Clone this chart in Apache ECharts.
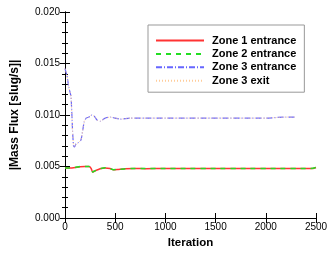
<!DOCTYPE html>
<html>
<head>
<meta charset="utf-8">
<script src="https://cdn.jsdelivr.net/npm/echarts@6/dist/echarts.min.js"></script>
<style>
html,body{margin:0;padding:0;background:#fff;}
#charts{width:332px;height:254px;}
</style>
</head>
<body>
<div id="charts"></div>
<script>
//mass flux convergence history
var fontName = "Liberation Sans";
var xTicks = [0, 500, 1000, 1500, 2000, 2500];
var yTicks = [0.000, 0.005, 0.010, 0.015, 0.020];

// zone 1 / zone 2 entrance (almost identical)
var iterZone12 = [0, 50, 100, 150, 200, 240, 260, 275, 300, 350, 400, 450, 480, 520, 600, 700, 800, 1000, 1200, 1500, 1800, 2100, 2400, 2470, 2500];
var zone1In = [0.00485, 0.00485, 0.00490, 0.00498, 0.00500, 0.00500, 0.00482, 0.00446, 0.00458, 0.00478, 0.00486, 0.00480, 0.00468, 0.00470, 0.00478, 0.00480, 0.00479, 0.00480, 0.00480, 0.00480, 0.00480, 0.00480, 0.00480, 0.00481, 0.00490];
var zone2In = [0.00486, 0.00486, 0.00491, 0.00499, 0.00501, 0.00501, 0.00483, 0.00447, 0.00459, 0.00479, 0.00487, 0.00481, 0.00469, 0.00471, 0.00479, 0.00481, 0.00480, 0.00481, 0.00481, 0.00481, 0.00481, 0.00481, 0.00481, 0.00482, 0.00491];

// zone 3 entrance / exit
var iterZone3 = [0, 20, 40, 60, 75, 85, 95, 110, 130, 160, 190, 210, 240, 260, 290, 320, 350, 400, 450, 500, 550, 650, 800, 1000, 1200, 1400, 1600, 1800, 2000, 2200, 2300];
var zone3In = [0.0145, 0.0138, 0.0126, 0.0118, 0.0085, 0.0070, 0.0069, 0.0072, 0.0073, 0.0076, 0.0093, 0.0097, 0.0098, 0.0100, 0.0099, 0.0095, 0.0094, 0.0097, 0.0098, 0.0097, 0.0096, 0.0097, 0.0097, 0.0097, 0.0097, 0.0097, 0.0097, 0.0097, 0.0097, 0.0098, 0.0098];
var zone3Out = [0.0145, 0.0138, 0.0126, 0.0118, 0.0085, 0.0070, 0.0069, 0.0072, 0.0073, 0.0076, 0.0093, 0.0097, 0.0098, 0.0100, 0.0099, 0.0095, 0.0094, 0.0097, 0.0098, 0.0097, 0.0096, 0.0097, 0.0097, 0.0097, 0.0097, 0.0097, 0.0097, 0.0097, 0.0097, 0.0098, 0.0098];

function pairs(xs, ys){
	var out = [];
	for(var i=0;i<xs.length;i++){
		out.push([xs[i], ys[i]]);
	}
	return out;
}

function lineSeries(name, xs, ys, color, type, width){
	return {
		name: name,
		type: 'line',
		symbol: 'none',
		smooth: 0.15,
		data: pairs(xs, ys),
		lineStyle: {color: color, width: width, type: type},
		itemStyle: {color: color}
	};
}

var tickStyle = {show: true, inside: true, length: 5, lineStyle: {color: '#000', width: 1}};
var minorStyle = {show: true, splitNumber: 5, length: 3, lineStyle: {color: '#000', width: 1}};

var options = {
	animation: false,
	textStyle: {fontFamily: fontName},
	grid: {left: 65, right: 16, top: 12, bottom: 29},
	legend: {
		orient: 'vertical',
		left: 148,
		top: 25,
		width: 151,
		padding: [10, 8, 6, 7],
		itemWidth: 48,
		itemHeight: 10,
		itemGap: 2.4,
		borderColor: '#999',
		borderWidth: 1,
		backgroundColor: '#fff',
		itemStyle: {opacity: 0},
		textStyle: {fontFamily: fontName, fontSize: 11, fontWeight: 'bold', color: '#000', padding: [0, 0, 0, 3]},
		data: ['Zone 1 entrance', 'Zone 2 entrance', 'Zone 3 entrance', 'Zone 3 exit']
	},
	xAxis: [{
		type: 'value',
		min: 0, max: 2500, interval: 500,
		name: 'Iteration',
		nameLocation: 'middle',
		nameGap: 19,
		nameTextStyle: {fontFamily: fontName, fontSize: 11.5, fontWeight: 'bold', color: '#000'},
		axisLine: {show: true, lineStyle: {color: '#000', width: 1}},
		axisTick: tickStyle,
		axisLabel: {fontFamily: fontName, fontSize: 10, color: '#000', margin: 4,
			formatter: function(v){ return String(v); }},
		splitLine: {show: false}
	}, {
		type: 'value',
		position: 'top',
		min: 0, max: 2500, interval: 500,
		axisLine: {show: true, lineStyle: {color: '#000', width: 1}},
		axisTick: tickStyle,
		axisLabel: {show: false},
		splitLine: {show: false}
	}],
	yAxis: [{
		type: 'value',
		min: 0, max: 0.02, interval: 0.005,
		name: '|Mass Flux [slug/s]|',
		nameLocation: 'middle',
		nameGap: 44,
		nameTextStyle: {fontFamily: fontName, fontSize: 12, fontWeight: 'bold', color: '#000'},
		axisLine: {show: true, lineStyle: {color: '#000', width: 1}},
		axisTick: tickStyle,
		minorTick: minorStyle,
		axisLabel: {fontFamily: fontName, fontSize: 10, color: '#000', margin: 5,
			formatter: function(v){ return v.toFixed(3); }},
		splitLine: {show: false}
	}, {
		type: 'value',
		position: 'right',
		min: 0, max: 0.02, interval: 0.005,
		axisLine: {show: true, lineStyle: {color: '#000', width: 1}},
		axisTick: tickStyle,
		minorTick: minorStyle,
		axisLabel: {show: false},
		splitLine: {show: false}
	}],
	series: [
		lineSeries('Zone 1 entrance', iterZone12, zone1In, '#ff3333', 'solid', 1.5),
		lineSeries('Zone 2 entrance', iterZone12, zone2In, '#22dd22', [5, 5], 1.5),
		lineSeries('Zone 3 entrance', iterZone3, zone3In, '#6666ff', [6, 2, 1, 2], 1.2),
		lineSeries('Zone 3 exit', iterZone3, zone3Out, '#ffcc99', [1, 2], 1)
	]
};

var charts = echarts.init(document.getElementById('charts'));
charts.setOption(options);
</script>
</body>
</html>
